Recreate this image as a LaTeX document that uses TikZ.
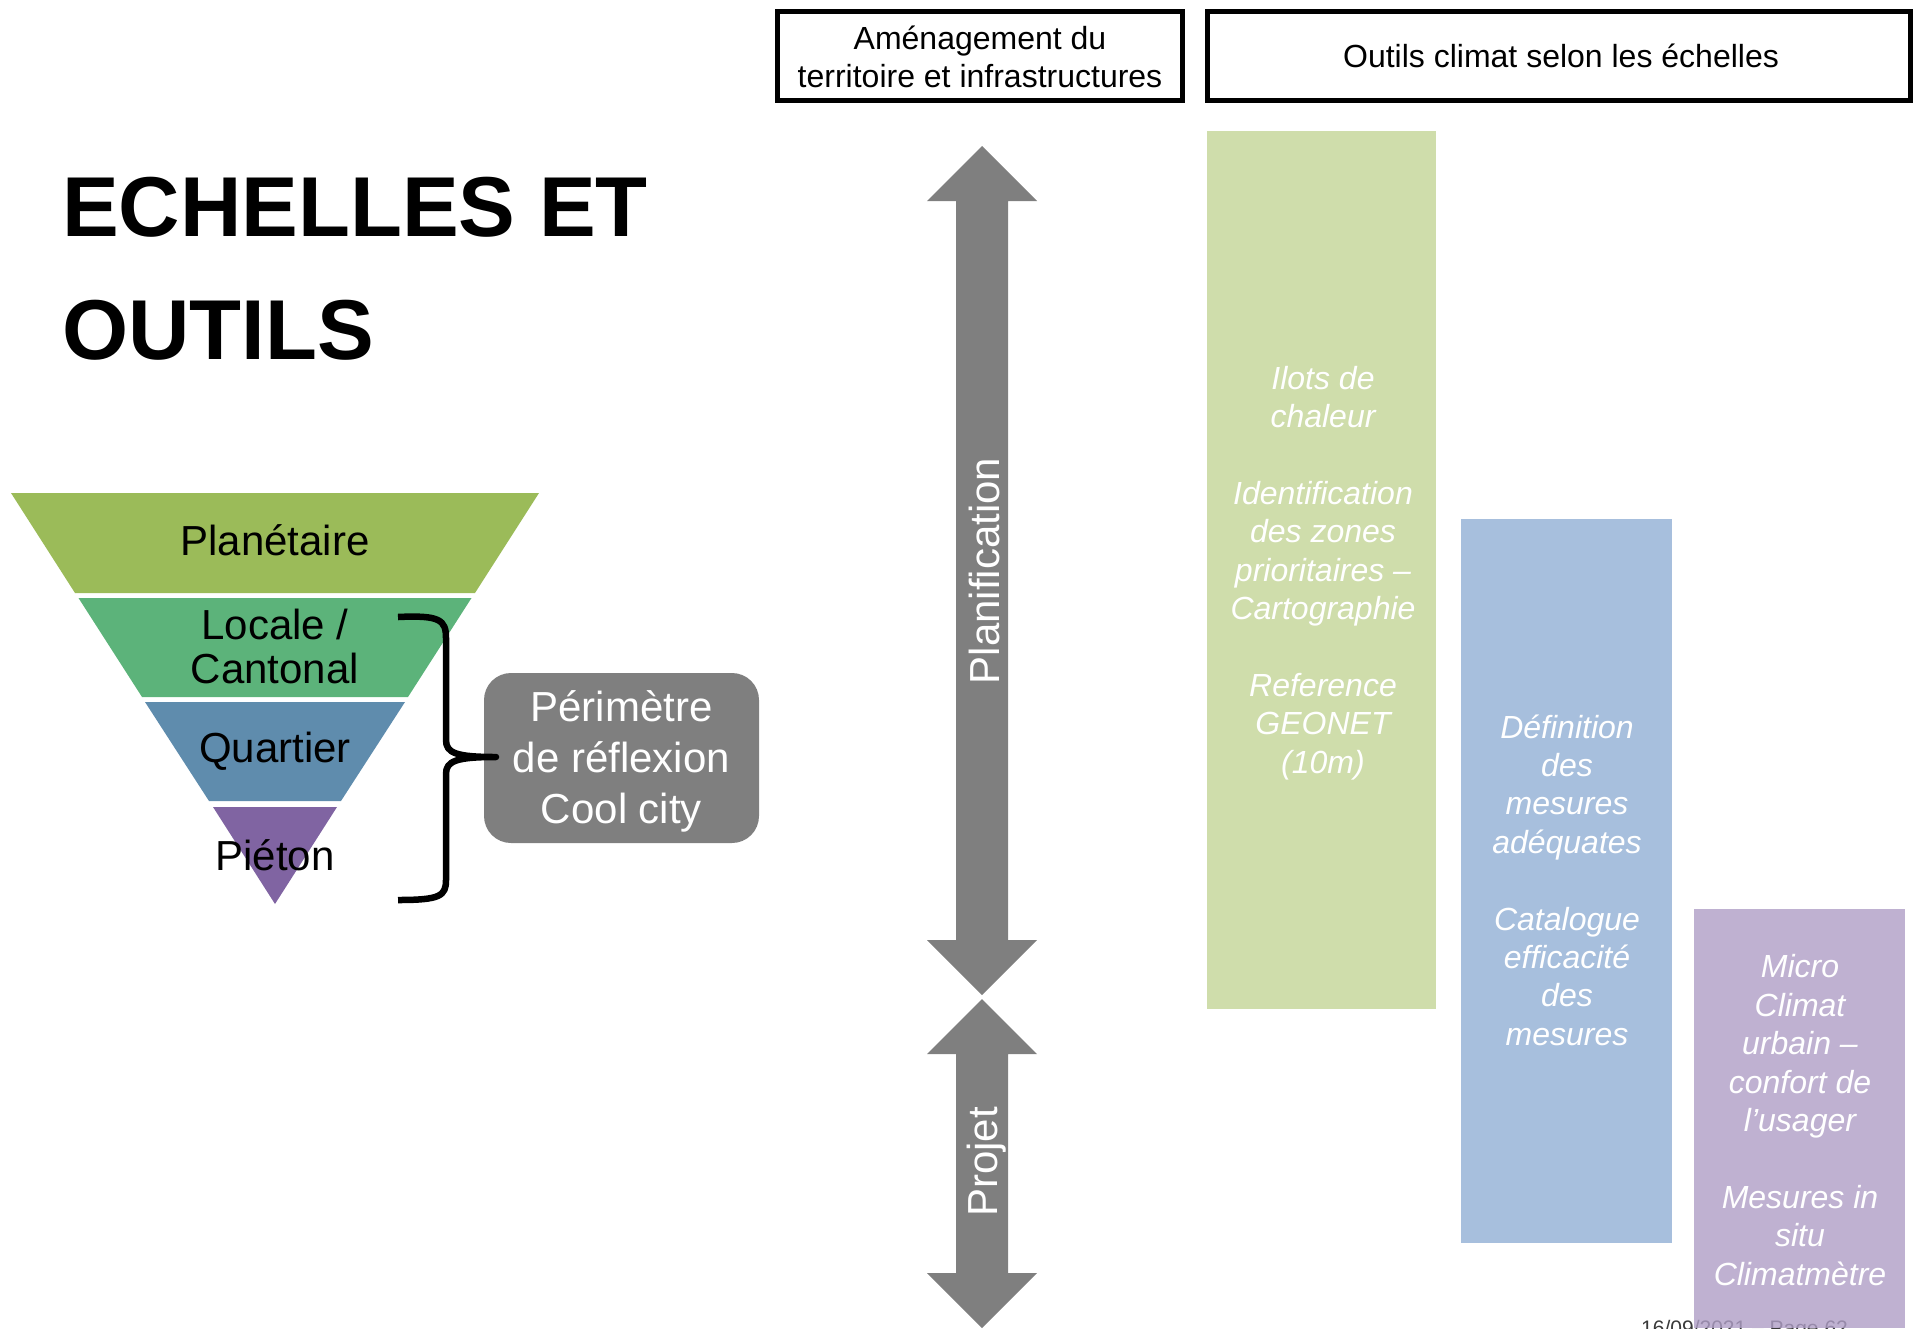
\documentclass[tikz,border=0pt]{standalone}
\usepackage{fontspec}
\setmainfont{Liberation Sans}
\definecolor{planet}{HTML}{9BBB59}
\definecolor{locale}{HTML}{5CB37A}
\definecolor{quart}{HTML}{5F8CAD}
\definecolor{pieton}{HTML}{8064A2}
\definecolor{arrowgray}{HTML}{7F7F7F}
\definecolor{greenbox}{HTML}{CFDDAB}
\definecolor{bluebox}{HTML}{A7BFDD}
\definecolor{purplebox}{HTML}{AF9EC6}
\definecolor{footgray}{HTML}{3A3A3A}
\tikzset{
  headbox/.style={draw=black, line width=5pt},
  bandtext/.style={inner sep=0pt, text=black, align=center, font=\fontsize{42}{44}\selectfont},
  tooltext/.style={inner sep=0pt, text=white, align=center, font=\fontsize{32}{38.4}\selectfont\itshape},
  headtext/.style={inner sep=0pt, text=black, align=center, font=\fontsize{32}{38}\selectfont},
  arrowtext/.style={inner sep=0pt, text=white, rotate=90, font=\fontsize{42}{44}\selectfont},
  titletext/.style={inner sep=0pt, anchor=base west, font=\fontsize{85}{123}\selectfont\bfseries},
}
\begin{document}
\begin{tikzpicture}[x=1pt,y=-1pt]
\useasboundingbox (0,0) rectangle (1916,1328);

% title
\node[titletext] (t1) at (62,236) {ECHELLES ET};
\node[titletext] (t2) at (62,359) {OUTILS};

% header boxes
\draw[headbox] (777.5,11.5) rectangle (1182.5,100.5);
\node[headtext] (h1) at (980,57) {Aménagement du\\territoire et infrastructures};
\draw[headbox] (1207.5,11.5) rectangle (1910.5,100.5);
\node[headtext] (h2) at (1561,56) {Outils climat selon les échelles};

% pyramid
\fill[planet] (11,493) -- (539,493) -- (475,593) -- (75,593) -- cycle;
\fill[locale] (78.5,598) -- (471.5,598) -- (408,697) -- (142,697) -- cycle;
\fill[quart] (145,702) -- (405,702) -- (341,801) -- (209,801) -- cycle;
\fill[pieton] (213,807) -- (337,807) -- (275,904) -- cycle;
\node[bandtext] (p1) at (275,540) {Planétaire};
\node[bandtext] (p2) at (275,646) {Locale /\\Cantonal};
\node[bandtext] (p3) at (275,751) {Quartier};
\node[bandtext] (p4) at (275,855) {Piéton};

% perimetre box
\node[draw=none, fill=arrowgray, rounded corners=27pt, minimum width=275pt, minimum height=170pt, inner sep=0pt] (perim) at (621.5,758) {};
\node[inner sep=0pt, text=white, align=center, font=\fontsize{42}{51}\selectfont] (perimtxt) at (621.5,761) {Périmètre\\de réflexion\\Cool city};

% brace
\coordinate (btop) at (398,617);
\coordinate (bbot) at (398,900);
\coordinate (btip) at (496,757);
\draw[line width=6.5pt, line join=round]
  (btop) .. controls (440,615) and (446,620) .. (446,638) -- (446,740)
  .. controls (446,753) and (456,757) .. (btip)
  .. controls (456,757) and (446,761) .. (446,774) -- (446,880)
  .. controls (446,896) and (440,900) .. (bbot);

% arrows
\fill[arrowgray] (982,146) -- (1037,201) -- (1008,201) -- (1008,940) -- (1037,940) -- (982,995)
  -- (927,940) -- (956,940) -- (956,201) -- (927,201) -- cycle;
\fill[arrowgray] (982,999) -- (1037,1054) -- (1008,1054) -- (1008,1273) -- (1037,1273) -- (982,1328)
  -- (927,1273) -- (956,1273) -- (956,1054) -- (927,1054) -- cycle;
\node[arrowtext] (plan) at (984,571) {Planification};
\node[arrowtext] (proj) at (987,1162) {Projet};

% footer (partly hidden)
\node[inner sep=0pt, anchor=base west, text=footgray, font=\fontsize{21}{25}\selectfont] (foot) at (1641,1335) {16/09/2021 – Page 62};

% tool boxes
\fill[greenbox] (1207,131) rectangle (1436,1009);
\fill[bluebox] (1461,519) rectangle (1672,1243);
\fill[purplebox, fill opacity=0.8] (1694,909) rectangle (1905,1328);

\node[tooltext] (g) at (1323,573) {Ilots de\\chaleur\\[38.4pt]Identification\\des zones\\prioritaires –\\Cartographie\\[38.4pt]Reference\\GEONET\\(10m)};
\node[tooltext] (b) at (1567,880) {Définition\\des\\mesures\\adéquates\\[38.4pt]Catalogue\\efficacité\\des\\mesures};
\node[tooltext] (pu) at (1800,1120) {Micro\\Climat\\urbain –\\confort de\\l’usager\\[38.4pt]Mesures in\\situ\\Climatmètre};
\end{tikzpicture}
\end{document}
